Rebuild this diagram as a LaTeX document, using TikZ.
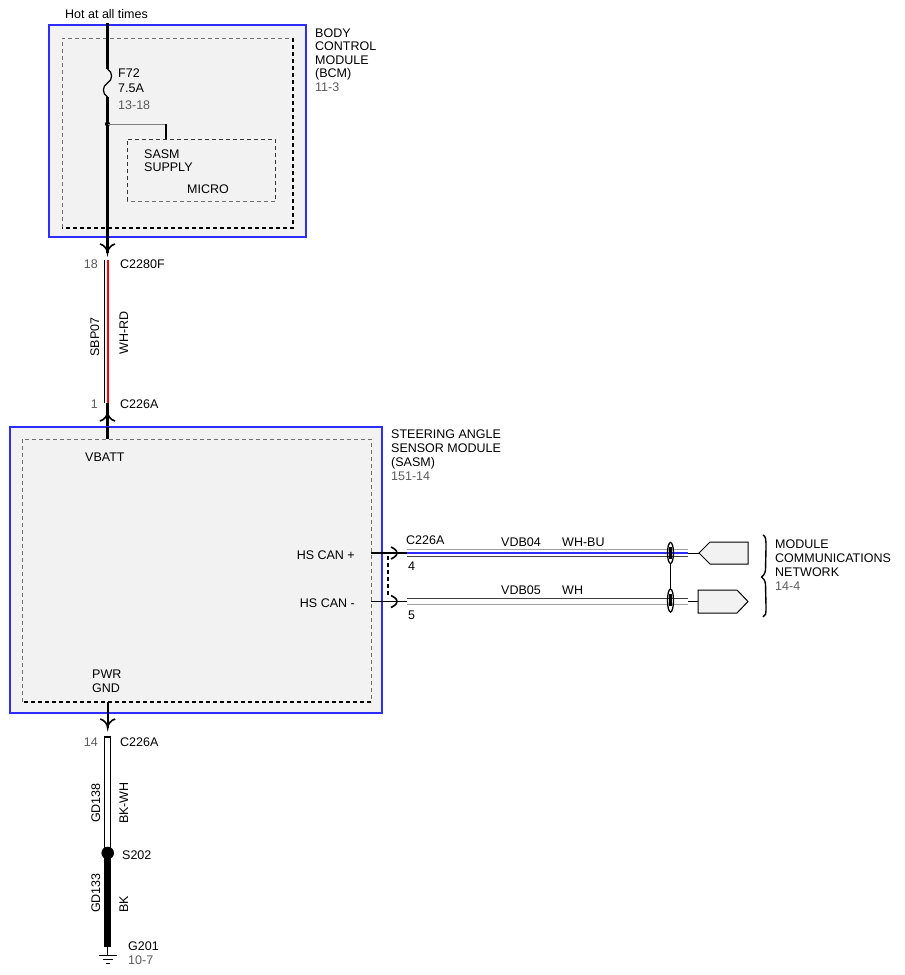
\documentclass[tikz,border=0pt]{standalone}
\usepackage{fontspec}
\setmainfont{Liberation Sans}
\newcommand\lblfont{\fontsize{12.5}{14}\selectfont}
\definecolor{boxfill}{RGB}{242,242,242}
\definecolor{modblue}{RGB}{45,45,255}
\definecolor{numgray}{RGB}{90,90,90}
\definecolor{dashgray}{RGB}{110,110,110}
\begin{document}
\begin{tikzpicture}[x=1pt,y=-1pt,
  every node/.style={inner sep=0pt, font=\lblfont},
  lab/.style={anchor=base west},
  labr/.style={anchor=base east, text=numgray},
  vlab/.style={anchor=base, rotate=90},
  modbox/.style={draw=modblue, line width=1.6pt, fill=boxfill},
  thindash/.style={draw=dashgray, line width=0.7pt, dash pattern=on 4pt off 3pt},
  darkdash/.style={draw=black!80, line width=0.8pt, dash pattern=on 4pt off 3pt},
  heavydash/.style={draw=black, line width=1.5pt, dash pattern=on 4pt off 3pt},
  wire/.style={draw=black, line width=2.3pt},
  chev/.style={draw=black, line width=1.6pt},
  thinwire/.style={draw=black, line width=1.3pt},
  connshape/.style={draw=black, line width=1pt, fill=boxfill}]
\useasboundingbox (0,0) rectangle (905,975);
\fill[white] (0,0) rectangle (905,975);

% ---------------- BCM ----------------
\draw[modbox] (49,25) rectangle (306,237);
\draw[thindash] (62,228) -- (62,38) -- (293,38);
\draw[heavydash] (293,38) -- (293,228) -- (62,228);
\draw[darkdash] (127,201) -- (127,139) -- (275,139) -- (275,201);
\draw[thindash] (275,201) -- (127,201);

\node[lab] (hot) at (65,18) {Hot at all times};
\node[lab] (f72) at (118,77) {F72};
\node[lab] (f75) at (118,92) {7.5A};
\node[lab, text=numgray] (f1318) at (118,109) {13-18};
\node[lab] (sasm1) at (144,158) {SASM};
\node[lab] (sasm2) at (144,171.5) {SUPPLY};
\node[lab] (micro) at (187,193) {MICRO};
\node[lab] (bcm1) at (315,37) {BODY};
\node[lab] (bcm2) at (315,50.5) {CONTROL};
\node[lab] (bcm3) at (315,64) {MODULE};
\node[lab] (bcm4) at (315,77.5) {(BCM)};
\node[lab, text=numgray] (bcm5) at (315,91) {11-3};

\coordinate (wtop) at (107.5,23);
\coordinate (fuseA) at (107.5,69);
\coordinate (fuseB) at (107.5,97);
\coordinate (j1) at (107.5,124);
\coordinate (br1) at (166,124);
\coordinate (br2) at (166,139);
\coordinate (c1tip) at (107.5,253);
\draw[wire] (wtop) -- (fuseA);
\draw[black, line width=1.2pt] (fuseA) .. controls (113,72) and (113,80) .. (107.5,83)
   .. controls (102,86) and (102,94) .. (fuseB);
\draw[wire] (fuseB) -- (c1tip);
\fill (j1) circle (2.6);
\draw[gray, line width=0.9pt] (j1) -- (br1);
\draw[black, line width=1.3pt] (br1) -- (br2);
\draw[chev] (100,244) .. controls (104,245) and (107.5,249) .. (c1tip)
   .. controls (107.5,249) and (111,245) .. (115,244);

% ---------------- SBP07 ----------------
\coordinate (w2a) at (107.5,260);
\coordinate (w2b) at (107.5,403);
\draw[black, line width=1pt] (104.2,260) -- (104.2,403);
\draw[red, line width=2.4pt] (108.2,260) -- (108.2,403);
\node[labr] (n18) at (98,268) {18};
\node[lab] (c2280f) at (120,268) {C2280F};
\node[vlab] (sbp07) at (99,337) {SBP07};
\node[vlab] (whrd) at (128,333) {WH-RD};
\node[labr] (n1) at (98,408) {1};
\node[lab] (c226a1) at (120,408) {C226A};

\coordinate (c2tip) at (107.5,412);
\coordinate (vbatt) at (107.5,439);
\draw[wire] (w2b) -- (vbatt);
\draw[chev] (100,421) .. controls (104,420) and (107.5,416) .. (c2tip)
   .. controls (107.5,416) and (111,420) .. (115,421);

% ---------------- SASM ----------------
\draw[modbox] (10,427) rectangle (382,713);
\draw[thindash] (22,702) -- (22,439) -- (371,439) -- (371,702);
\draw[heavydash] (371,702) -- (22,702);
\draw[wire] (107.5,427) -- (vbatt);

\node[lab] (vbattl) at (85,461) {VBATT};
\node[lab] (pwr) at (92,678) {PWR};
\node[lab] (gnd) at (92,692) {GND};
\node[lab] (s1) at (391,438) {STEERING ANGLE};
\node[lab] (s2) at (391,452) {SENSOR MODULE};
\node[lab] (s3) at (391,466) {(SASM)};
\node[lab, text=numgray] (s4) at (391,480) {151-14};

\node[anchor=base east] (canpl) at (355,559) {HS CAN +};
\node[anchor=base east] (canml) at (355,607) {HS CAN -};

% ---------------- HS CAN wires ----------------
\coordinate (canp) at (371,553);
\coordinate (canpt) at (397,553);
\coordinate (canpw) at (407,553);
\coordinate (canm) at (371,601.5);
\coordinate (canmt) at (397,601.5);
\coordinate (canmw) at (407,601.5);
\draw[thinwire] (canp) -- (canpw);
\draw[thinwire] (canm) -- (canmw);
\draw[chev] (391,547) .. controls (393,548) and (397,550) .. (canpt)
   .. controls (397,556) and (393,558) .. (391,559);
\draw[chev] (391,595.5) .. controls (393,596.5) and (397,598.5) .. (canmt)
   .. controls (397,604.5) and (393,606.5) .. (391,607.5);
\draw[heavydash] (388,556) -- (388,598);

\draw[gray!75, line width=1.7pt] (407,549.5) -- (688,549.5);
\draw[modblue, line width=1.3pt] (407,553) -- (688,553);
\draw[black!75, line width=1.2pt] (407,556.5) -- (688,556.5);
\draw[black!75, line width=1.2pt] (407,598.5) -- (688,598.5);
\draw[gray!75, line width=1.8pt] (407,604.5) -- (688,604.5);

\node[lab] (c226a3) at (406,544) {C226A};
\node[lab] (n4) at (408,570) {4};
\node[lab] (n5) at (408,619) {5};
\node[lab] (vdb04) at (501,546) {VDB04};
\node[lab] (whbu) at (562,546) {WH-BU};
\node[lab] (vdb05) at (501,594) {VDB05};
\node[lab] (wh) at (562,594) {WH};

% twisted pair
\coordinate (tp1) at (670.5,563);
\coordinate (tp2) at (670.5,589);
\draw[black, line width=1.3pt] (670.5,553) ellipse (3 and 10.5);
\draw[black, line width=1.3pt] (670.5,600.5) ellipse (3 and 11.5);
\draw[black, line width=2.2pt] (670.5,547) -- (670.5,559);
\draw[black, line width=2.2pt] (670.5,594) -- (670.5,606);
\draw[black, line width=1.6pt] (tp1) -- (tp2);

% connectors on the right
\coordinate (r1a) at (688,553);
\coordinate (r1b) at (699,553);
\coordinate (r2a) at (688,601.5);
\coordinate (r2b) at (698,601.5);
\draw[black, line width=1pt] (r1a) -- (r1b);
\draw[black, line width=1pt] (r2a) -- (r2b);
\draw[connshape] (r1b) -- (710,542) -- (748,542) -- (748,564) -- (710,564) -- cycle;
\draw[connshape] (698,590) -- (737,590) -- (748,601.5) -- (737,613) -- (698,613) -- cycle;

\draw[black, line width=1.4pt] (763,535) .. controls (766,536) and (766,540) .. (766,548)
  -- (765.5,570) .. controls (765,574) and (763,576) .. (761.5,577)
  .. controls (763,578) and (765,580) .. (765.5,584)
  -- (766,606) .. controls (766,614) and (766,616) .. (763,617);
\node[lab] (m1) at (775,548) {MODULE};
\node[lab] (m2) at (775,562) {COMMUNICATIONS};
\node[lab] (m3) at (775,576) {NETWORK};
\node[lab, text=numgray] (m4) at (775,590) {14-4};

% ---------------- ground ----------------
\coordinate (pg) at (107.7,702);
\coordinate (c3tip) at (107.7,728);
\draw[wire] (pg) -- (c3tip);
\draw[chev] (100.2,719) .. controls (104.2,720) and (107.7,724) .. (c3tip)
   .. controls (107.7,724) and (111.2,720) .. (115.2,719);
\draw[black, line width=1.3pt] (104.7,737) rectangle (110.7,848);
\coordinate (s202) at (107.7,853);
\fill (s202) circle (6.3);
\coordinate (gwa) at (107.7,858);
\coordinate (gwb) at (107.7,947);
\coordinate (gnds) at (107.7,955);
\draw[black, line width=6.5pt] (gwa) -- (gwb);
\draw[black, line width=1pt] (gwb) -- (gnds);
\draw[black, line width=1pt] (98.7,955) -- (116.7,955);
\draw[black, line width=1pt] (102.7,959) -- (112.7,959);
\draw[black, line width=1pt] (105.7,963) -- (109.7,963);

\node[labr] (n14) at (98,746) {14};
\node[lab] (c226a2) at (120,746) {C226A};
\node[vlab] (gd138) at (100,803) {GD138};
\node[vlab] (bkwh) at (128,803) {BK-WH};
\node[lab] (s202l) at (122,859) {S202};
\node[vlab] (gd133) at (100,893) {GD133};
\node[vlab] (bk) at (128,904) {BK};
\node[lab] (g201) at (128,950) {G201};
\node[lab, text=numgray] (g107) at (128,964) {10-7};
\end{tikzpicture}
\end{document}
